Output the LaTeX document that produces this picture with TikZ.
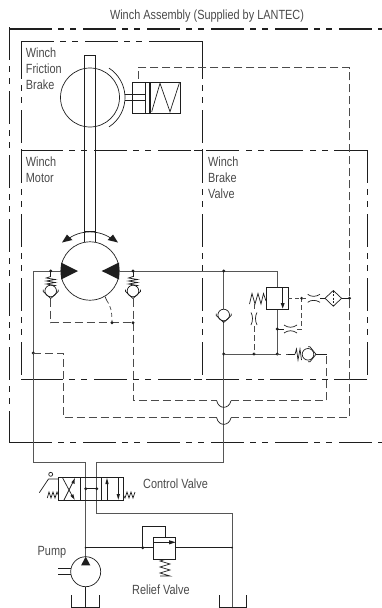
\documentclass[tikz,border=0pt]{standalone}
\usepackage{fontspec}
\setmainfont[FakeStretch=0.82]{Liberation Sans}
\definecolor{ink}{HTML}{1E1E1E}
\definecolor{txt}{HTML}{4A4A4A}
\tikzset{
  line/.style={draw=ink,line width=0.7pt},
  soft/.style={draw=ink!75,line width=0.85pt},
  pilot/.style={draw=ink!80,line width=0.7pt,dash pattern=on 8pt off 4pt},
  phantomthick/.style={draw=ink,line width=1.2pt,dash pattern=on 33pt off 6pt on 6pt off 6pt on 6pt off 7pt},
  phantomthin/.style={draw=ink,line width=0.7pt,dash pattern=on 33pt off 6pt on 6pt off 6pt on 6pt off 7pt},
  dot/.style={circle,fill=ink,inner sep=0pt,minimum size=3.2pt},
  blk/.style={fill=ink,draw=none},
  lab/.style={font=\fontsize{13.3pt}{15.7pt}\selectfont,text=txt,inner sep=0pt,align=left},
}
\newcommand{\chkv}[2]{% vertical check valve with seat below, at centre of ball
  \draw[line,fill=white] (#1,#2) circle (5.8pt);
  \draw[line] (#1-7.5,#2-1.5) -- (#1-7.5,#2+.5) -- (#1,#2+7.5) -- (#1+7.5,#2+.5) -- (#1+7.5,#2-1.5);
}
\newcommand{\vspr}[2]{% small horizontal-zigzag spring from y=#2
  \draw[line] (#1,#2) -- (#1-4.5,#2+1.5) -- (#1+4.5,#2+3) -- (#1-4.5,#2+4.5) -- (#1+4.5,#2+6) -- (#1-4.5,#2+7.5) -- (#1+4.5,#2+9) -- (#1,#2+10);
}
\begin{document}
\begin{tikzpicture}[x=1pt,y=-1pt]
\useasboundingbox (0,0) rectangle (382,608);
% assembly boundary
\draw[phantomthick] (19,29) -- (382,29);
\draw[phantomthick] (19,442.5) -- (382,442.5);
\draw[phantomthick] (9.5,27) -- (9.5,442.5);
\draw[ink,line width=1.2pt,line cap=rect] (19,29) -- (9.5,29);
\draw[ink,line width=1.2pt,line cap=rect] (19,442.5) -- (9.5,442.5);
% brake box
\draw[phantomthin] (21,41) -- (149,41);
\draw[line] (149,41) -- (202,41);
\draw[line] (21,41) -- (21,46) (202,41) -- (202,46);
\draw[phantomthin] (21,46) -- (21,150);
\draw[phantomthin] (202,46) -- (202,150);
% motor and brake valve boxes
\draw[phantomthin] (21,150) -- (21,379);
\draw[phantomthin] (202,150) -- (202,379);
\draw[phantomthin] (367,150) -- (367,379);
\foreach \yy in {150,379} {
  \draw[line] (21,\yy) -- (30,\yy) (194,\yy) -- (202,\yy);
  \draw[phantomthin] (30,\yy) -- (194,\yy);
  \draw[phantomthin] (367,\yy) -- (202,\yy);
}
% brake
\draw[line] (90,97.5) circle (29.5pt);
\draw[line] (109.06,126.85) arc[start angle=-57,end angle=57,radius=35pt];
\draw[line] (84.2,241.8) -- (84.2,55) -- (95.6,55) -- (95.6,241.8);
\draw[ink,line width=1.4pt] (90,55.5) -- (95.6,55.5);
\draw[line] (84.2,231.5) -- (95.6,231.5);
\draw[line] (125,94.5) -- (145,94.5) (125,100.5) -- (145,100.5);
\draw[line] (132.7,82.3) rectangle (180.7,113.3);
\draw[line] (145,82.3) -- (145,113.3);
\draw[ink,line width=1.2pt] (150,82.3) -- (150,113.3);
\draw[line] (151.7,111.7) -- (160,83.3) -- (170,111.7) -- (179.3,83.3);
% motor
\draw[line] (90,271) circle (29.2pt);
\fill[blk] (61,262.5) -- (78,271) -- (61,279.5) -- cycle;
\fill[blk] (119,262.5) -- (101.7,271) -- (119,279.5) -- cycle;
\draw[line] (66,240.5) .. controls (80,229) and (100,229) .. (114,240.5);
\fill[blk] (62,242.5) -- (67,234.5) -- (72.5,240) -- cycle;
\fill[blk] (118,242.5) -- (113,234.5) -- (107.5,240) -- cycle;
% motor lines
\draw[soft] (61,271) -- (33.3,271) -- (33.3,462.7) -- (85.7,462.7) -- (85.7,556.7);
\draw[soft] (119,271) -- (277.3,271) -- (277.3,287.3);
\draw[soft] (223.7,271) -- (223.7,462.7) -- (96.7,462.7) -- (96.7,513) -- (232,513) -- (232,607);
% left check
\draw[line] (50.7,271) -- (50.7,276.5);
\vspr{50.7}{276.5}
\chkv{50.7}{291}
\node[dot] (d1) at (50.7,271) {};
% right check
\draw[line] (133,271) -- (133,276.5);
\vspr{133}{276.5}
\chkv{133}{291}
\node[dot] (d2) at (133,271) {};
% case drain & pilot
\draw[pilot] (50.7,298.5) -- (50.7,322.7) -- (133,322.7);
\draw[pilot] (133,298.5) -- (133,400.7) -- (216.7,400.7);
\draw[line] (216.7,400.7) .. controls (218.5,409.5) and (229,409.5) .. (231,400.7);
\draw[pilot] (231,400.7) -- (326.7,400.7) -- (326.7,354.3);
\draw[line] (105,296.5) -- (106.5,300);
\draw[pilot,dash pattern=on 4pt off 3pt] (106.5,300) .. controls (111,306) and (112,312) .. (112,322.7);
\node[dot] (d3) at (112,322.7) {};
\node[dot] (d4) at (133,322.7) {};
% brake pilot
\node[dot] (d5) at (33.3,353) {};
\draw[pilot] (33.3,353) -- (63.3,353) -- (63.3,417.8) -- (216.7,417.8);
\draw[line] (216.7,417.8) .. controls (218.5,426.5) and (229,426.5) .. (231,417.8);
\draw[pilot] (231,417.8) -- (349.5,417.8) -- (349.5,67.5) -- (138,67.5) -- (138,82.3);
% brake valve centre check
\chkv{223.7}{315}
\node[dot] (d6) at (223.7,271) {};
\node[dot] (d7) at (223.7,354) {};
\draw[soft] (223.7,354) -- (277.3,354) -- (277.3,309.3);
\node[dot] (d8) at (254,354) {};
\node[dot] (d9) at (277.3,354) {};
\node[dot] (d10) at (277.3,329) {};
% counterbalance valve
\draw[line] (266,287.3) rectangle (288.3,309.3);
\draw[line] (282.7,287.3) -- (282.7,305);
\fill[blk] (280.7,303) -- (284.7,303) -- (282.7,308.5) -- cycle;
\draw[line] (249.5,304) -- (252,293.5) -- (255,304) -- (258,293.5) -- (261,304) -- (263.5,293.5) -- (266,301);
% vertical restrictor
\draw[pilot,dash pattern=on 5pt off 3pt] (254,304) -- (254,311);
\draw[pilot,dash pattern=on 6pt off 3pt] (254,326) -- (254,354);
\draw[line] (251,312.5) .. controls (253,316) and (253,321) .. (251,325);
\draw[line] (257,312.5) .. controls (255,316) and (255,321) .. (257,325);
% horizontal restrictor lower
\draw[line] (284,325) .. controls (288,328) and (293,328) .. (297,325);
\draw[line] (284,333) .. controls (288,330) and (293,330) .. (297,333);
\draw[line] (277.3,329) -- (284,329);
\draw[pilot,dash pattern=on 5pt off 3pt] (297,329) -- (301.7,329) -- (301.7,298.3);
% upper restrictor & filter
\node[dot] (d11) at (301.7,298.3) {};
\draw[pilot,dash pattern=on 4pt off 3pt] (288.3,298.3) -- (307.7,298.3);
\draw[line] (307.7,294.3) .. controls (311,297) and (316,297) .. (320,294.3);
\draw[line] (307.7,302.3) .. controls (311,299.7) and (316,299.7) .. (320,302.3);
\draw[line] (320,298.3) -- (325,298.3);
\draw[line] (325,298.3) -- (333.3,290.5) -- (341.6,298.3) -- (333.3,306.2) -- cycle;
\draw[line,dash pattern=on 2pt off 1.5pt] (333.3,290.5) -- (333.3,306.2);
\draw[line] (341.6,298.3) -- (349.5,298.3);
\node[dot] (d12) at (349.5,298.3) {};
% lower check
\draw[pilot,dash pattern=on 4pt off 5pt] (277.3,354.3) -- (290,354.3);
\draw[line] (288,354.3) -- (295,354.3);
\draw[line] (295,354.3) -- (296.5,349) -- (298,360) -- (300,349) -- (301.5,360);
\draw[line,fill=white] (308,354.3) circle (5.8pt);
\draw[line] (308,346.8) -- (310,346.8) -- (316,354.3) -- (310,361.8) -- (308,361.8);
\draw[line] (316,354.3) -- (326.7,354.3);
% control valve
\draw[line] (58.3,477.7) rectangle (123.3,500);
\draw[line] (80,477.7) -- (80,500) (101.7,477.7) -- (101.7,500);
\draw[line] (64,500) -- (73,482);
\fill[blk] (74.8,478.2) -- (74.6,484) -- (71.4,482.4) -- cycle;
\draw[line] (62.5,477.7) -- (72,495.5);
\fill[blk] (74.6,499.7) -- (70.4,495.8) -- (73.4,494.2) -- cycle;
\draw[line] (85.7,488.7) -- (96.7,488.7);
\node[dot] (d13) at (85.7,488.7) {};
\node[dot] (d14) at (96.7,488.7) {};
\draw[line] (107,500) -- (107,483);
\fill[blk] (107,478) -- (108.7,484) -- (105.3,484) -- cycle;
\draw[line] (118.3,477.7) -- (118.3,494);
\fill[blk] (118.3,499.7) -- (116.6,494) -- (120,494) -- cycle;
\draw[line] (47.3,498) -- (49,492) -- (51,498) -- (53,492) -- (55,498) -- (57,492) -- (58.3,495);
\draw[line] (123.3,495) -- (125,498) -- (127,492) -- (129,498) -- (131,492) -- (133,498) -- (135,492);
\draw[line] (39.3,492.7) -- (48.5,479) -- (58.3,479);
\draw[line] (50.7,474.3) circle (2pt);
% relief valve
\draw[line] (85.7,547.7) -- (153.3,547.7);
\draw[line] (175.7,547.7) -- (232,547.7);
\node[dot,minimum size=2pt] (d15) at (85.7,547.7) {};
\node[dot,minimum size=2pt] (d16) at (232,547.7) {};
\node[dot] (d17) at (142.7,547.7) {};
\draw[line] (142.7,547.7) -- (142.7,526) -- (165,526) -- (165,537.3);
\draw[line] (153.3,537.3) rectangle (175.7,559);
\draw[line] (153.3,542.3) -- (170,542.3);
\fill[blk] (175.7,542.3) -- (169,540.2) -- (169,544.4) -- cycle;
\draw[line] (165,559.5) -- (160,561) -- (170,564) -- (160,567) -- (170,570) -- (160,573) -- (170,576) -- (160,576);
% pump
\draw[line] (85.7,571.7) circle (15pt);
\fill[blk] (85.7,556.7) -- (90.3,565.3) -- (81.1,565.3) -- cycle;
\draw[line] (58.3,568.3) -- (71.3,568.3) (58.3,574.3) -- (70.9,574.3);
\draw[line] (85.7,586.7) -- (85.7,607);
\draw[line] (71.7,595) -- (71.7,607) -- (99.7,607) -- (99.7,595);
\draw[line] (219,595) -- (219,607) -- (246.7,607) -- (246.7,595);
% labels
\node[lab,anchor=center] (t1) at (207,16.5) {Winch Assembly (Supplied by LANTEC)};
\node[lab,anchor=north west] (t2) at (25.7,48) {Winch\\Friction\\Brake};
\node[lab,anchor=north west] (t3) at (25.7,157) {Winch\\Motor};
\node[lab,anchor=north west] (t4) at (208,157) {Winch\\Brake\\Valve};
\node[lab,anchor=west] (t5) at (143,484) {Control Valve};
\node[lab,anchor=west] (t6) at (37.5,552.5) {Pump};
\node[lab,anchor=west] (t7) at (132,590) {Relief Valve};
\end{tikzpicture}
\end{document}
